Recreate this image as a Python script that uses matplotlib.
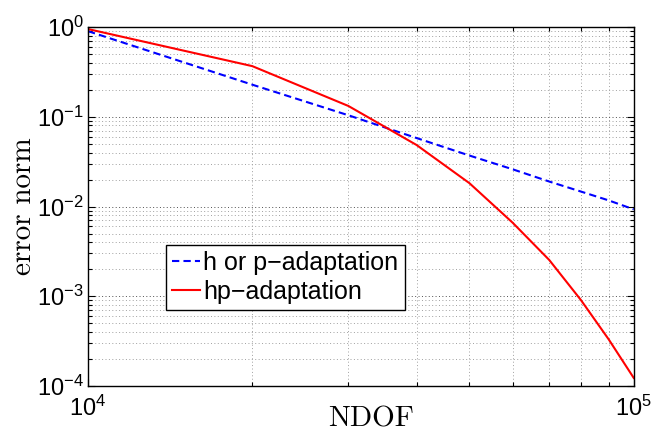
import matplotlib
matplotlib.use("Agg")
import matplotlib.pyplot as plt
from matplotlib.ticker import LogLocator, NullFormatter

plt.rcParams['font.family'] = ['Liberation Sans', 'DejaVu Sans']

ndof = [1e4, 2e4, 3e4, 4e4, 5e4, 6e4, 7e4, 8e4, 9e4, 1e5]
err_h_or_p = [0.9, 0.228, 0.104, 0.058, 0.037, 0.026, 0.019, 0.0147, 0.0117, 0.0093]
err_hp = [0.95, 0.367, 0.132, 0.0485, 0.0182, 0.0066, 0.00254, 0.00091, 0.00033, 0.000123]

labels = ['h or p\u2212adaptation', 'hp\u2212adaptation']

fig = plt.figure(figsize=(6.52, 4.33), dpi=100)
ax = fig.add_axes([0.135, 0.1085, 0.837, 0.829])

ax.plot(ndof, err_h_or_p, color='#0000ff', lw=1.5, linestyle=(0, (3.5, 2)), label=labels[0])
ax.plot(ndof, err_hp, color='#ff0000', lw=1.5, label=labels[1])

ax.set_xscale('log')
ax.set_yscale('log')
ax.set_xlim(1e4, 1e5)
ax.set_ylim(1e-4, 1e0)

ax.yaxis.set_major_locator(LogLocator(base=10, numticks=10))
ax.yaxis.set_minor_locator(LogLocator(base=10, subs=range(2, 10), numticks=20))
ax.yaxis.set_minor_formatter(NullFormatter())
ax.xaxis.set_minor_formatter(NullFormatter())

ax.grid(True, which='major', linestyle=(0, (1, 2.5)), color='#505050', lw=0.7)
ax.grid(True, which='minor', linestyle=(0, (1, 2.5)), color='#a0a0a0', lw=0.7)

ax.tick_params(which='both', direction='in', top=True, right=True, labelsize=17, width=0.8)
ax.tick_params(which='major', length=5)
ax.tick_params(which='minor', length=3)
ax.tick_params(axis='y', pad=3)
ax.tick_params(axis='x', pad=7)
for s in ax.spines.values():
    s.set_linewidth(1.0)

ax.set_xlabel('NDOF', fontfamily='cmr10', fontsize=21)
ax.xaxis.set_label_coords(0.518, -0.055)
ax.set_ylabel('error norm', fontfamily='cmr10', fontsize=21, labelpad=0)

leg = ax.legend(loc='lower left', bbox_to_anchor=(0.143, 0.212), fontsize=18,
                handlelength=1.12, handletextpad=0.12, borderpad=0.25,
                labelspacing=0.18, borderaxespad=0, fancybox=False, framealpha=1,
                edgecolor='black')
leg.get_frame().set_linewidth(1.0)

fig.savefig('out.png', dpi=100)
